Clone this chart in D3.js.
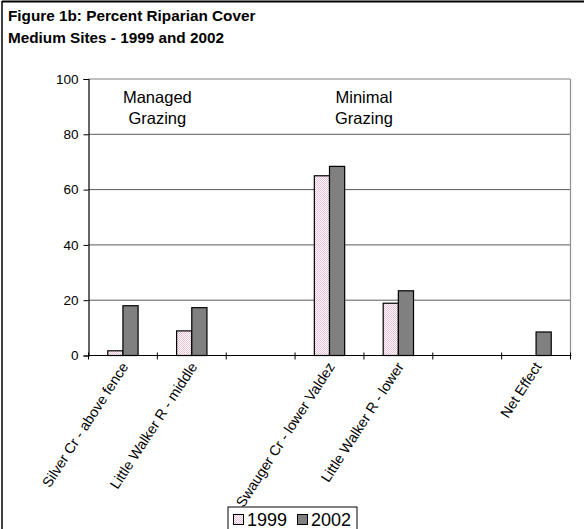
<!DOCTYPE html>
<html>
<head>
<meta charset="utf-8">
<script src="https://cdn.jsdelivr.net/npm/d3@7/dist/d3.min.js"></script>
<style>
  html, body { margin: 0; padding: 0; background: #fff; }
  svg { display: block; font-family: Arial, "Liberation Sans", sans-serif; }
</style>
</head>
<body>
<svg id="chart" width="584" height="529"></svg>
<script>
// Site categories (blank slots separate the grazing groups)
const categories = [
  "Silver Cr - above fence",
  "Little Walker R - middle",
  "",
  "Swauger Cr - lower Valdez",
  "Little Walker R - lower",
  "",
  "Net Effect"
];
const seriesNames = ["1999", "2002"];
const values1999 = [1.7, 8.9, null, 65.0, 18.9, null, null];
const values2002 = [18.0, 17.3, null, 68.4, 23.4, null, 8.5];
const yTicks = [0, 20, 40, 60, 80, 100];
const titleLines = ["Figure 1b: Percent Riparian Cover", "Medium Sites - 1999 and 2002"];
const groupLabels = [
  { lines: ["Managed", "Grazing"], between: [0, 1] },
  { lines: ["Minimal", "Grazing"], between: [3, 4] }
];

const svg = d3.select("#chart");
const W = 584, H = 529;
const plot = { left: 88.5, right: 570.5, top: 79, bottom: 355.5 };

// Outer frame (top and left edges visible)
svg.append("line").attr("x1", 2).attr("x2", W).attr("y1", 1.5).attr("y2", 1.5)
  .attr("stroke", "#000").attr("stroke-width", 2);
svg.append("line").attr("x1", 2).attr("x2", 2).attr("y1", 1).attr("y2", H)
  .attr("stroke", "#000").attr("stroke-width", 1.5);

// Title
svg.append("g").selectAll("text").data(titleLines).join("text")
  .attr("x", 8).attr("y", (d, i) => 21 + i * 22)
  .attr("font-size", 15.3).attr("font-weight", "bold").attr("fill", "#000")
  .text(d => d);

// Scales
const x = d3.scaleBand().domain(d3.range(categories.length))
  .range([plot.left, plot.right]).paddingInner(0).paddingOuter(0);
const xs = d3.scaleBand().domain(seriesNames)
  .range([0, x.bandwidth()]).paddingInner(0).paddingOuter(1.27);
const y = d3.scaleLinear().domain([0, 100]).range([plot.bottom, plot.top]);

// Dotted pink pattern for the 1999 series
const defs = svg.append("defs");
const pat = defs.append("pattern").attr("id", "pinkDots")
  .attr("patternUnits", "userSpaceOnUse").attr("width", 2).attr("height", 2);
pat.append("rect").attr("width", 2).attr("height", 2).attr("fill", "#ffffff");
pat.append("rect").attr("width", 1).attr("height", 1).attr("fill", "#ebbdd2");
pat.append("rect").attr("x", 1).attr("y", 1).attr("width", 1).attr("height", 1).attr("fill", "#ebbdd2");

const fills = { "1999": "url(#pinkDots)", "2002": "#808080" };

// Gridlines
svg.append("g").selectAll("line").data(yTicks.filter(t => t > 0 && t < 100)).join("line")
  .attr("x1", plot.left).attr("x2", plot.right)
  .attr("y1", d => y(d)).attr("y2", d => y(d))
  .attr("stroke", "#5a5a5a").attr("stroke-width", 1);

// Plot area border (top and right)
svg.append("line").attr("x1", plot.left).attr("x2", plot.right)
  .attr("y1", y(100)).attr("y2", y(100)).attr("stroke", "#808080").attr("stroke-width", 1.2);
svg.append("line").attr("x1", plot.right).attr("x2", plot.right)
  .attr("y1", y(100)).attr("y2", y(0)).attr("stroke", "#909090").attr("stroke-width", 1.2);

// Bars
const barData = [];
categories.forEach((c, i) => {
  if (values1999[i] != null) barData.push({ i, s: "1999", v: values1999[i] });
  if (values2002[i] != null) barData.push({ i, s: "2002", v: values2002[i] });
});
svg.append("g").selectAll("rect").data(barData).join("rect")
  .attr("x", d => x(d.i) + xs(d.s))
  .attr("y", d => y(d.v))
  .attr("width", xs.bandwidth())
  .attr("height", d => y(0) - y(d.v))
  .attr("fill", d => fills[d.s])
  .attr("stroke", "#000").attr("stroke-width", 1.2);

// Y axis
const yAxis = svg.append("g").attr("transform", `translate(${plot.left},0)`)
  .call(d3.axisLeft(y).tickValues(yTicks).tickSize(5).tickPadding(5));
yAxis.select(".domain").attr("stroke", "#000").attr("stroke-width", 1.2);
yAxis.selectAll(".tick line").attr("stroke", "#000");
yAxis.selectAll(".tick text").attr("font-size", 13.5).attr("fill", "#000")
  .attr("font-family", "Arial, 'Liberation Sans', sans-serif");

// X axis with ticks on slot boundaries
const xAxisG = svg.append("g");
xAxisG.append("line").attr("x1", plot.left).attr("x2", plot.right + 1)
  .attr("y1", y(0)).attr("y2", y(0)).attr("stroke", "#000").attr("stroke-width", 1.2);
const boundaries = d3.range(categories.length + 1).map(i =>
  i < categories.length ? x(i) : x(categories.length - 1) + x.bandwidth());
xAxisG.selectAll("line.tk").data(boundaries).join("line").attr("class", "tk")
  .attr("x1", d => d).attr("x2", d => d)
  .attr("y1", y(0) - 3).attr("y2", y(0) + 4)
  .attr("stroke", "#000").attr("stroke-width", 1);

// Rotated category labels
xAxisG.selectAll("text").data(categories.map((c, i) => ({ c, i })).filter(d => d.c)).join("text")
  .attr("transform", d => `translate(${x(d.i) + x.bandwidth() / 2 + 6},${y(0) + 11}) rotate(-57)`)
  .attr("text-anchor", "end")
  .attr("font-size", 14.3).attr("fill", "#000")
  .text(d => d.c);

// Group annotations
groupLabels.forEach(g => {
  const cx = x(g.between[1]);
  svg.append("text")
    .attr("x", cx).attr("y", y(91.3))
    .attr("text-anchor", "middle").attr("font-size", 16.5).attr("fill", "#000")
    .selectAll("tspan").data(g.lines).join("tspan")
    .attr("x", cx).attr("dy", (d, i) => i === 0 ? 0 : 20.5)
    .text(d => d);
});

// Legend
const lg = svg.append("g").attr("transform", "translate(228,507)");
lg.append("rect").attr("width", 129).attr("height", 26)
  .attr("fill", "#fff").attr("stroke", "#000").attr("stroke-width", 1);
const items = lg.selectAll("g").data(seriesNames).join("g")
  .attr("transform", (d, i) => `translate(${5 + i * 64},0)`);
items.append("rect").attr("x", 0.5).attr("y", 7.5).attr("width", 10).attr("height", 10)
  .attr("fill", d => fills[d]).attr("stroke", "#000").attr("stroke-width", 1);
items.append("text").attr("x", 14).attr("y", 18.5)
  .attr("font-size", 18).attr("fill", "#000").text(d => d);
</script>
</body>
</html>
